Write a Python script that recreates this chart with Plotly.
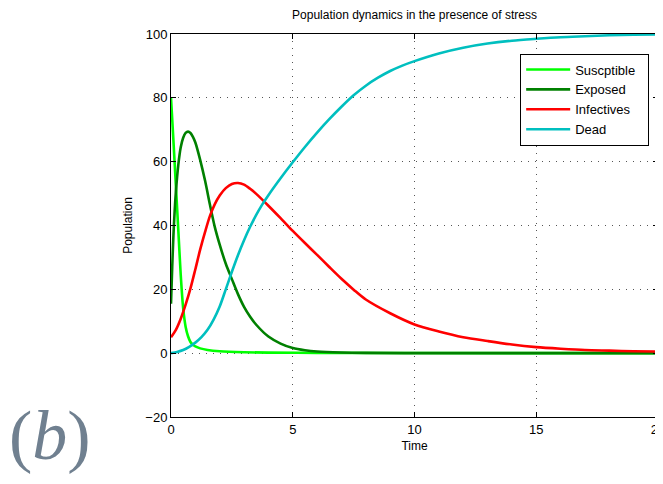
import plotly.graph_objects as go

# ---- data ----
t_S = [0, 0.1, 0.2, 0.3, 0.4, 0.5, 0.6, 0.7, 0.8, 0.9, 1.0, 1.2, 1.5, 2, 3, 4, 6, 10, 20]
susceptible = [80, 66.5, 52.5, 38.5, 24.5, 14, 8.3, 5.3, 3.5, 2.6, 2.1, 1.5, 1.0, 0.6, 0.3, 0.18, 0.08, 0.03, 0.01]

t_E = [0, 0.05, 0.1, 0.15, 0.2, 0.3, 0.4, 0.5, 0.6, 0.7, 0.8, 0.9, 1.0, 1.2, 1.4, 1.6, 1.8,
       2.0, 2.25, 2.5, 2.75, 3.0, 3.25, 3.5, 4.0, 4.5, 5.0, 5.5, 6.0, 7, 8, 10, 20]
exposed = [15.5, 27, 37, 44.5, 50.5, 59, 64.5, 67.5, 69, 69.4, 69, 67.8, 66, 60.5, 54, 46.5, 39.5,
           34, 28, 23.2, 18.5, 14.5, 11.4, 8.9, 5.2, 3.0, 1.6, 0.9, 0.5, 0.2, 0.08, 0.02, 0]

t_I = [0, 0.2, 0.4, 0.6, 0.8, 1.0, 1.2, 1.4, 1.6, 1.8, 2.0, 2.25, 2.5, 2.75, 3.0, 3.25, 3.5,
       4.0, 4.5, 5.0, 5.5, 6.0, 6.5, 7.0, 7.5, 8.0, 9, 10, 11, 12, 13, 14, 15, 16, 17, 18, 19, 20]
infectives = [5, 7.3, 10.8, 15.2, 20.3, 26.3, 32.5, 38, 43, 46.7, 49.4, 51.7, 53, 53.3, 52.8, 51.5, 49.9,
              46.2, 42.3, 38.3, 34.5, 30.8, 27.0, 23.3, 19.9, 16.8, 12.5, 9.0, 6.8, 5.0, 3.8, 2.7, 1.9,
              1.4, 1.0, 0.8, 0.6, 0.5]

t_D = [0, 0.25, 0.5, 0.75, 1.0, 1.25, 1.5, 1.75, 2.0, 2.25, 2.5, 2.75, 3.0, 3.25, 3.5, 3.75, 4.0,
       4.5, 5.0, 5.5, 6.0, 6.5, 7.0, 7.5, 8, 8.5, 9, 9.5, 10, 11, 12, 13, 14, 15, 16, 17, 18, 19, 20]
dead = [0, 0.4, 1.0, 2.0, 3.3, 5.0, 7.3, 10.5, 14.6, 20.0, 25.5, 30.7, 35.4, 39.6, 43.3, 46.6, 49.5,
        54.8, 59.8, 64.6, 69.1, 73.3, 77.2, 80.8, 83.8, 86.3, 88.4, 90.1, 91.5, 93.9, 95.7, 97.0, 97.9,
        98.5, 99.0, 99.3, 99.6, 99.8, 99.9]

x_ticks = [0, 5, 10, 15, 20]
y_ticks = [-20, 0, 20, 40, 60, 80, 100]

series = [
    ("Suscptible", t_S, susceptible, "#00FF00"),
    ("Exposed", t_E, exposed, "#008000"),
    ("Infectives", t_I, infectives, "#FF0000"),
    ("Dead", t_D, dead, "#00BFBF"),
]

PAD = "\u00a0\u00a0"  # trailing padding so the legend box is as wide as the original

fig = go.Figure()
for name, t, v, c in series:
    fig.add_trace(go.Scatter(x=t, y=v, name=name + PAD, mode="lines",
                             line=dict(color=c, width=2.6, shape="spline", smoothing=0.8)))

font = "Liberation Sans, Arial, sans-serif"
axis_common = dict(showline=True, linecolor="black", linewidth=1, mirror="ticks",
                   ticks="inside", ticklen=5, tickcolor="black",
                   showgrid=True, gridcolor="#555555", griddash="1px,6px", gridwidth=1,
                   zeroline=False, ticklabeloverflow="allow", automargin=False,
                   tickfont=dict(family=font, size=13, color="black"))

# the page has an 8px body margin; the figure is sized so it fits the 663x484 window
W, H = 655, 476
L, R, T, B = 163, 5, 26, 67

fig.update_layout(
    width=W, height=H,
    margin=dict(l=L, r=R, t=T, b=B, autoexpand=False),
    paper_bgcolor="white", plot_bgcolor="white",
    title=dict(text="Population dynamics in the presence of stress",
               font=dict(family=font, size=12, color="black"),
               x=(L + (W - R)) / 2 / W, xanchor="center", y=1 - 7 / H, yanchor="middle"),
    xaxis=dict(range=[0, 20], tickvals=x_ticks,
               title=dict(text="Time", font=dict(family=font, size=12, color="black"), standoff=6),
               **axis_common),
    yaxis=dict(range=[-20, 100], tickvals=y_ticks,
               title=dict(text="Population", font=dict(family=font, size=12, color="black"), standoff=10),
               **axis_common),
    legend=dict(x=0.717, y=0.949, xanchor="left", yanchor="top",
                bordercolor="black", borderwidth=1, bgcolor="white",
                font=dict(family=font, size=13, color="black"),
                itemwidth=44, tracegroupgap=0),
    showlegend=True,
)

pw = W - L - R
ph = H - T - B
fig.add_annotation(text="(<i>b</i>)", xref="paper", yref="paper",
                   x=(42 - L) / pw, y=(ph - (427 - T)) / ph, xanchor="center", yanchor="middle",
                   showarrow=False,
                   font=dict(family="Liberation Serif, DejaVu Serif, serif", size=70, color="#708090"))

fig.write_html("out.html")
